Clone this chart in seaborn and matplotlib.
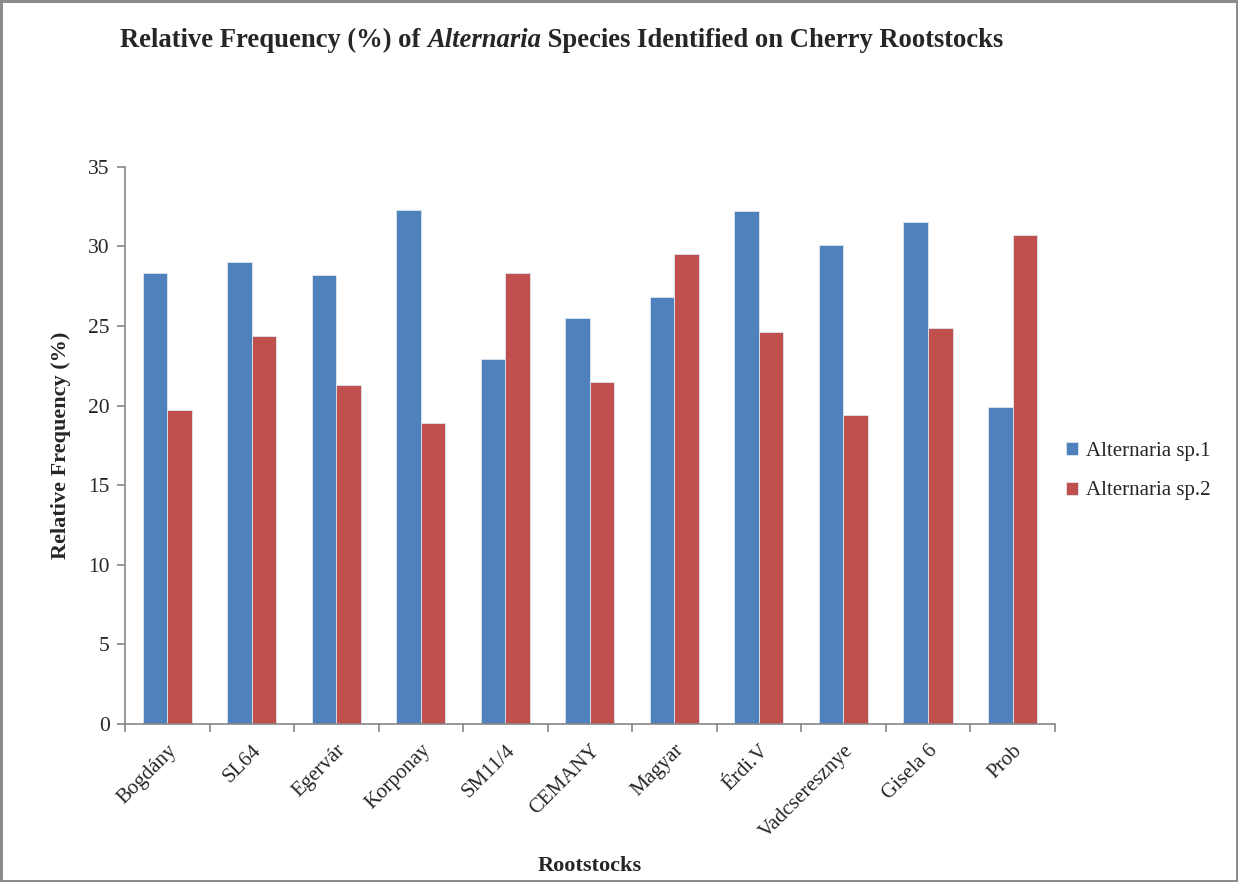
import matplotlib
matplotlib.use("Agg")
import matplotlib.pyplot as plt
import seaborn as sns
import pandas as pd
import numpy as np

rootstocks = ["Bogdány", "SL64", "Egervár", "Korponay", "SM11/4", "CEMANY",
              "Magyar", "Érdi.V", "Vadcseresznye", "Gisela 6", "Prob"]
sp1 = [28.3, 29.0, 28.2, 32.3, 22.9, 25.5, 26.8, 32.2, 30.1, 31.5, 19.9]
sp2 = [19.7, 24.4, 21.3, 18.9, 28.3, 21.5, 29.5, 24.6, 19.4, 24.9, 30.7]
species = ["Alternaria sp.1", "Alternaria sp.2"]
colors = ["#4F81BD", "#C0504D"]

df = pd.DataFrame({
    "Rootstock": rootstocks * 2,
    "Frequency": sp1 + sp2,
    "Species": [species[0]] * len(rootstocks) + [species[1]] * len(rootstocks),
})

sns.set_style("white")
plt.rcParams["font.family"] = ["Liberation Serif", "DejaVu Serif"]

fig = plt.figure(figsize=(12.38, 8.82), dpi=100)
ax = fig.add_axes([0.101, 0.179, 0.751, 0.632])

sns.barplot(data=df, x="Rootstock", y="Frequency", hue="Species",
            palette=colors, width=0.58, gap=0, ax=ax,
            edgecolor="#dde6f0", linewidth=0.6, saturation=1)

axis_gray = "#868686"
ax.set_ylim(0, 35)
ax.set_xlim(-0.5, len(rootstocks) - 0.5)
ax.set_yticks(np.arange(0, 36, 5))
ax.tick_params(axis="y", labelsize=15.5, length=6, width=1.2, color=axis_gray,
               direction="out", left=True, pad=5)
ax.set_xticks(range(len(rootstocks)))
ax.set_xticklabels(rootstocks, rotation=45, ha="right", rotation_mode="anchor",
                   fontsize=15)
ax.tick_params(axis="x", which="major", length=0, pad=12)
ax.set_xticks(np.arange(-0.5, len(rootstocks), 1), minor=True)
ax.tick_params(axis="x", which="minor", length=6, width=1.2, color=axis_gray,
               direction="out", bottom=True)

for side in ["top", "right"]:
    ax.spines[side].set_visible(False)
for side in ["left", "bottom"]:
    ax.spines[side].set_color(axis_gray)
    ax.spines[side].set_linewidth(1.2)

ax.set_xlabel("")
ax.set_ylabel("")
fig.text(590 / 1238, 1 - 866 / 882, "Rootstocks", fontsize=16,
         fontweight="bold", ha="center", va="center")
fig.text(61 / 1238, 1 - 445 / 882, "Relative Frequency (%)", fontsize=16,
         fontweight="bold", ha="center", va="center", rotation=90)

leg = ax.legend(loc="center left", bbox_to_anchor=(1.003, 0.454), frameon=False,
                fontsize=15, handlelength=0.6, handleheight=0.6,
                handletextpad=0.35, labelspacing=1.0, borderaxespad=0)

# Title with italic genus name
t1 = fig.text(120 / 1238, 1 - 53 / 882, "Relative Frequency (%) of ",
              fontsize=19.2, fontweight="bold", ha="left", va="bottom")
t2 = ax.annotate("Alternaria", xy=(1, 0), xycoords=t1, fontsize=19.2,
                 fontweight="bold", fontstyle="italic", ha="left", va="bottom",
                 annotation_clip=False)
t3 = ax.annotate(" Species Identified on Cherry Rootstocks", xy=(1, 0),
                 xycoords=t2, fontsize=19.2, fontweight="bold", ha="left",
                 va="bottom", annotation_clip=False)

# Chart frame
fig.patch.set_edgecolor("#8c8c8c")
fig.patch.set_linewidth(2.5)

fig.savefig("out.png", dpi=100, edgecolor=fig.get_edgecolor())
